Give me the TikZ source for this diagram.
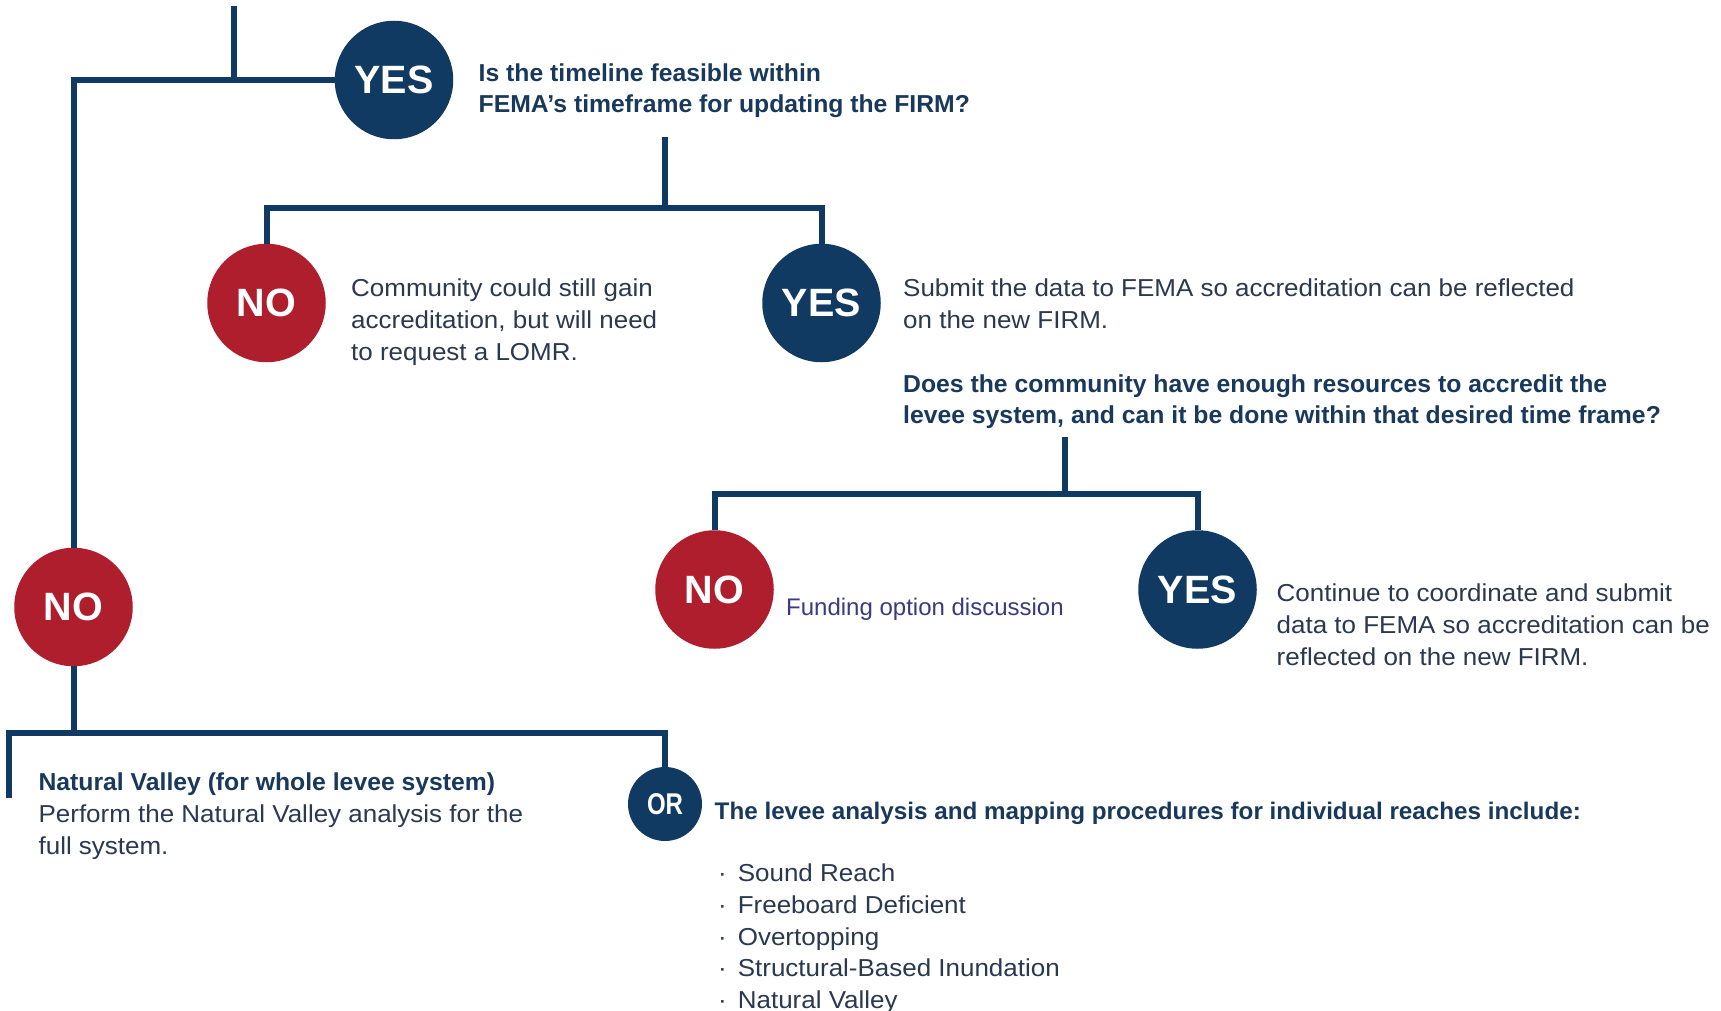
\documentclass[tikz,border=0pt]{standalone}
\usepackage{fontspec}
\setmainfont{Liberation Sans}[FakeStretch=1.06]
\newfontfamily\qfont{Liberation Sans}[FakeStretch=1.01]
\newfontfamily\labelfont{Liberation Sans}
\newfontfamily\plainfont{Liberation Sans}
\definecolor{navy}{RGB}{16,58,98}
\definecolor{crimson}{RGB}{174,30,45}
\definecolor{bodytext}{RGB}{42,56,80}
\definecolor{navytext}{RGB}{24,56,92}
\definecolor{fundtext}{RGB}{58,58,128}
\tikzset{
  conn/.style={draw=navy, line width=6pt},
  yescirc/.style={circle, fill=navy, minimum size=118.5pt, inner sep=0pt, text=white,
    font=\labelfont\bfseries\fontsize{39.5}{39.5}\selectfont},
  nocirc/.style={yescirc, fill=crimson},
  orcirc/.style={circle, fill=navy, minimum size=74pt, inner sep=0pt, text=white,
    font=\labelfont\bfseries\fontsize{30}{30}\selectfont},
  body/.style={anchor=north west, inner sep=0pt, align=left, text=bodytext,
    font=\fontsize{24.5}{32}\selectfont},
  question/.style={anchor=north west, inner sep=0pt, align=left, text=navytext,
    font=\qfont\bfseries\fontsize{24.5}{31}\selectfont},
}
\begin{document}
\begin{tikzpicture}[x=1pt,y=-1pt]
\useasboundingbox (0,0) rectangle (1721,1011);
\fill[white] (0,0) rectangle (1721,1011);

% circles
\node[yescirc] (yes1) at (394,80) {YES};
\node[nocirc]  (no1)  at (266.5,303) {NO};
\node[yescirc] (yes2) at (821.5,303) {YES};
\node[nocirc]  (no2)  at (714.5,589.5) {NO};
\node[yescirc] (yes3) at (1197.5,589.5) {YES};
\node[nocirc]  (no3)  at (73.5,607) {NO};
\node[orcirc]  (or)   at (665,804) {\scalebox{0.8}[1]{OR}};

% connector coordinates
\coordinate (topend) at (234,6);
\coordinate (topj) at (234,80);
\coordinate (lcorner) at (73.5,80);
\coordinate (stem1) at (665,137);
\coordinate (j1) at (665,208.5);
\coordinate (stem2) at (1064.7,437);
\coordinate (j2) at (1064.7,494);
\coordinate (bh) at (73.5,733);
\coordinate (bl) at (8.8,798);

% connectors
\draw[conn] (topend) -- (topj);
\draw[conn] (yes1.west) -- (lcorner) -- (no3.north);
\draw[conn] (stem1) -- (j1);
\draw[conn] (no1.north) |- (j1) -| (yes2.north);
\draw[conn] (stem2) -- (j2);
\draw[conn] (no2.north) |- (j2) -| (yes3.north);
\draw[conn] (no3.south) -- (bh);
\draw[conn] (bl) |- (bh) -| (or.north);

% texts
\node[question] (q1) at (478.5,64) {Is the timeline feasible within\\FEMA’s timeframe for updating the FIRM?};
\node[body] (t1) at (351,279) {Community could still gain\\accreditation, but will need\\to request a LOMR.};
\node[body] (t2) at (903,279) {Submit the data to FEMA so accreditation can be reflected\\on the new FIRM.};
\node[question] (q2) at (903,374.5) {Does the community have enough resources to accredit the\\levee system, and can it be done within that desired time frame?};
\node[anchor=north west, inner sep=0pt, text=fundtext, font=\plainfont\fontsize{24}{30}\selectfont] (t3) at (786,597.5) {Funding option discussion};
\node[body] (t4) at (1276.5,584) {Continue to coordinate and submit\\data to FEMA so accreditation can be\\reflected on the new FIRM.};
\node[body] (t5) at (38.4,773) {\textcolor{navytext}{\qfont\bfseries Natural Valley (for whole levee system)}\\Perform the Natural Valley analysis for the\\full system.};
\node[question, font=\qfont\bfseries\fontsize{24}{31}\selectfont] (q3) at (714.5,801.5) {The levee analysis and mapping procedures for individual reaches include:};
\node[body, font=\fontsize{24.5}{31.6}\selectfont] (t6) at (718,864) {·\hspace{11pt}Sound Reach\\·\hspace{11pt}Freeboard Deficient\\·\hspace{11pt}Overtopping\\·\hspace{11pt}Structural-Based Inundation\\·\hspace{11pt}Natural Valley};
\end{tikzpicture}
\end{document}
